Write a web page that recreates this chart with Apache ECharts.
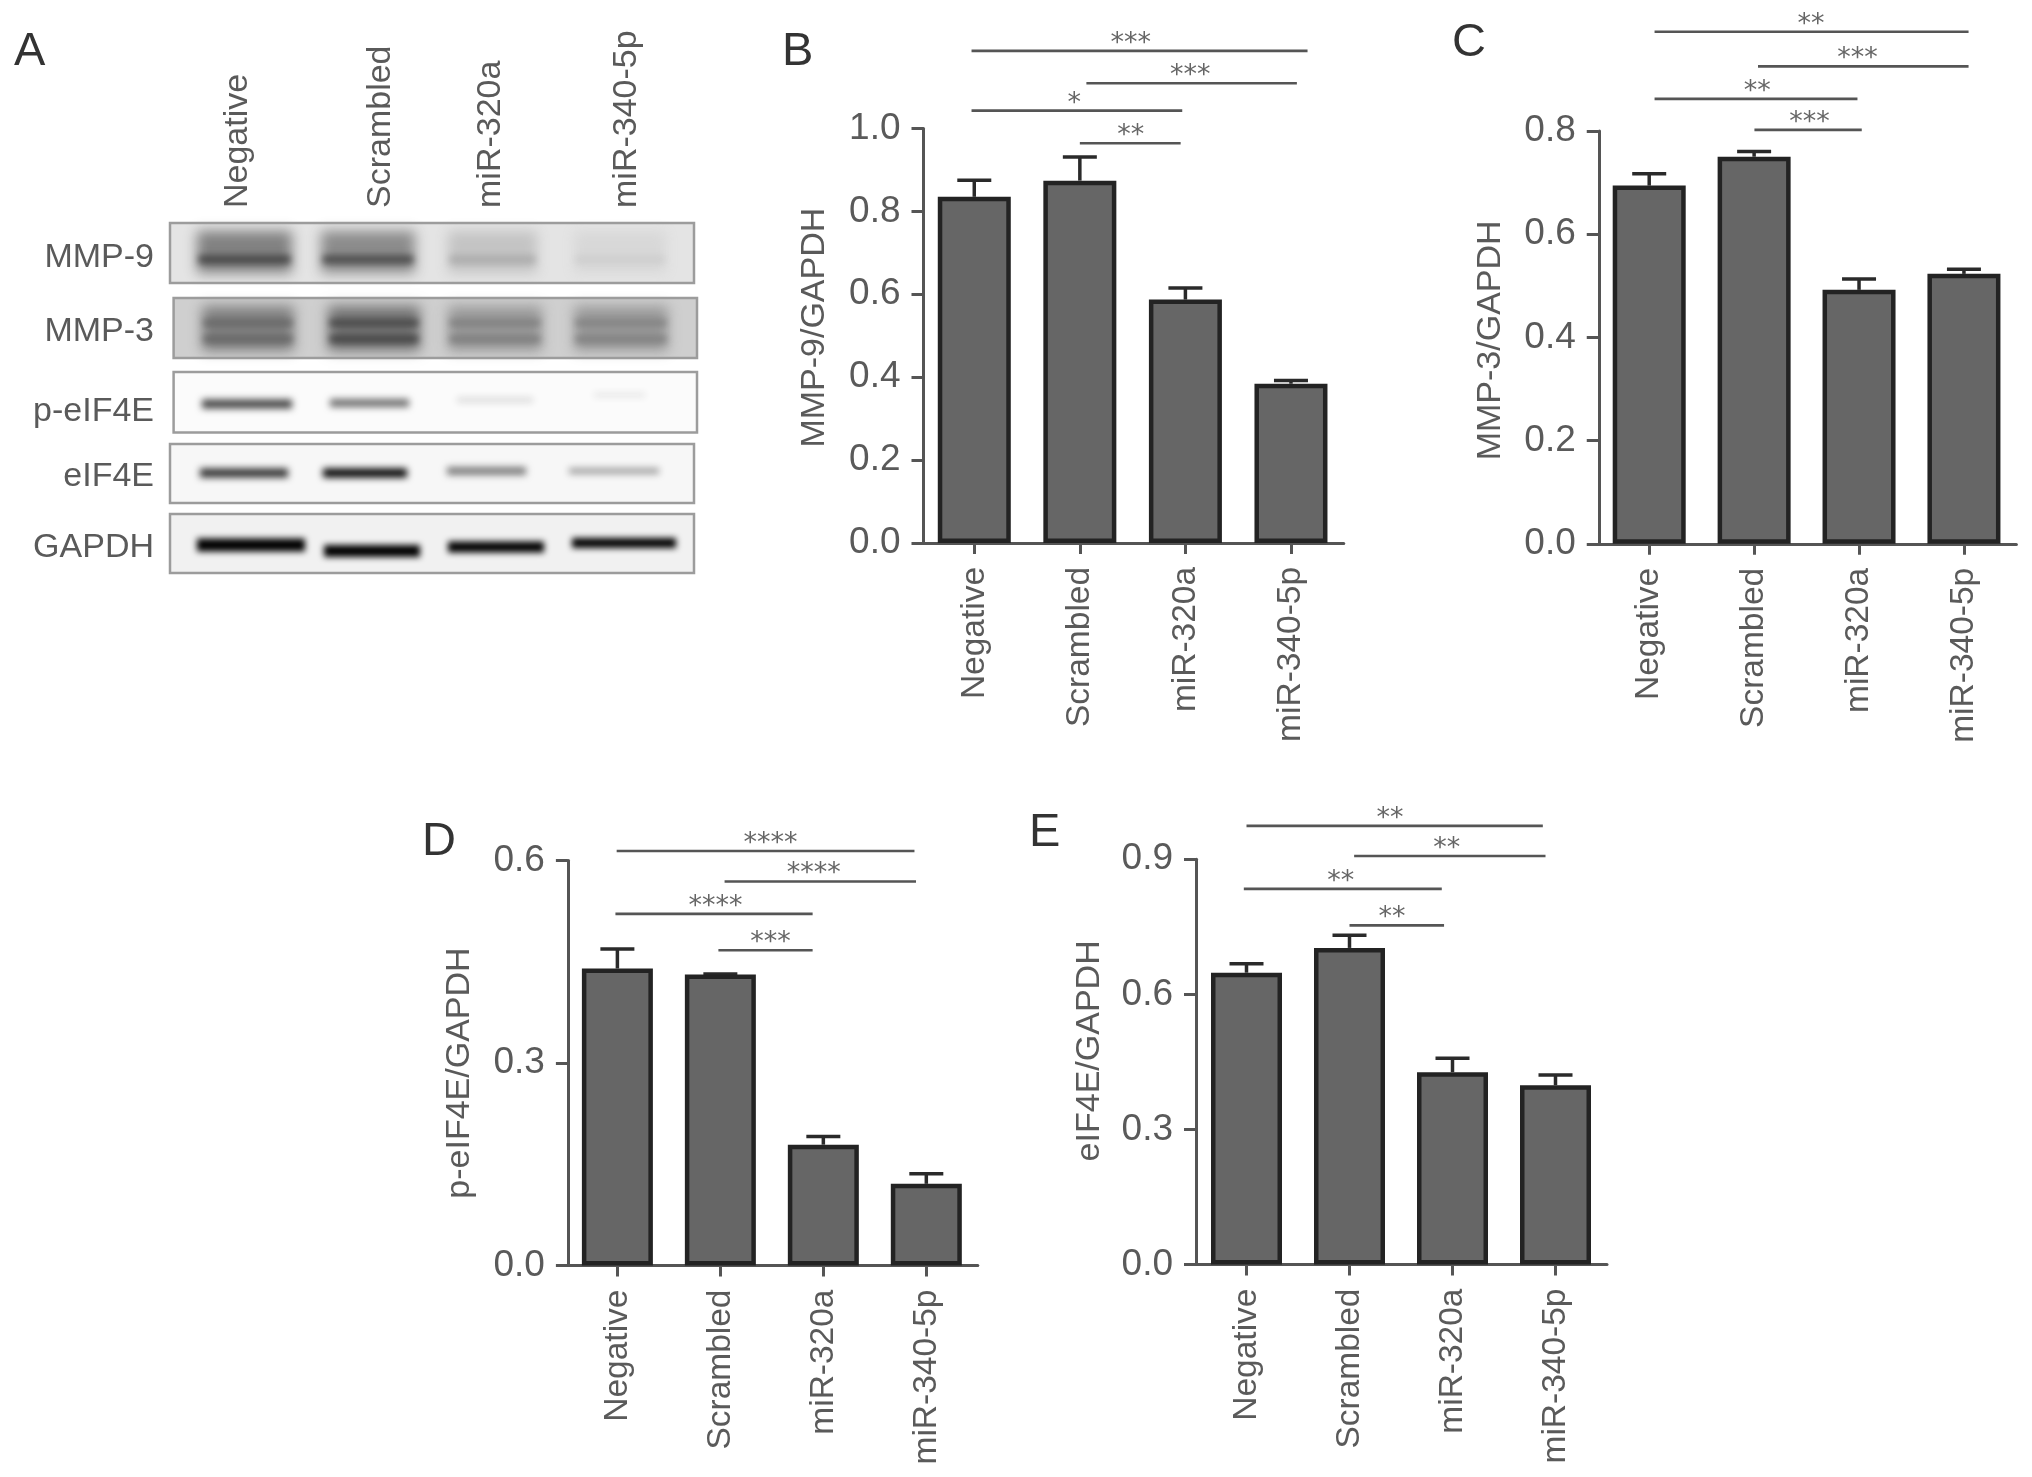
<!DOCTYPE html>
<html><head><meta charset="utf-8">
<style>html,body{margin:0;padding:0;background:#fff}#c{width:2032px;height:1477px}</style>
<script src="https://cdn.jsdelivr.net/npm/echarts@6/dist/echarts.min.js"></script>
</head><body><div id="c"></div>
<script>
// ---------- data ----------
const categories = ['Negative','Scrambled','miR-320a','miR-340-5p'];
const yNames = ['MMP-9/GAPDH','MMP-3/GAPDH','p-eIF4E/GAPDH','eIF4E/GAPDH'];
const valuesB = [0.835,0.874,0.587,0.384];
const errTopB = [0.875,0.931,0.615,0.392];
const valuesC = [0.694,0.75,0.492,0.523];
const errTopC = [0.717,0.760,0.513,0.532];
const valuesD = [0.44,0.431,0.179,0.121];
const errTopD = [0.469,0.432,0.191,0.136];
const valuesE = [0.648,0.703,0.427,0.398];
const errTopE = [0.668,0.731,0.458,0.421];
// significance: [from, to, height, stars, star position]
const sigB = [[-0.026,3.157,1.187,'***',1.483],[1.062,3.056,1.109,'***',2.045],[-0.026,1.97,1.043,'*',0.948],[1.0,1.955,0.964,'**',1.483]];
const sigC = [[0.051,3.044,0.992,'**',1.542],[1.037,3.044,0.925,'***',1.985],[0.051,1.985,0.862,'**',1.029],[1.003,2.026,0.802,'***',1.527]];
const sigD = [[-0.007,2.885,0.614,'****',1.487],[1.041,2.9,0.569,'****',1.907],[-0.019,1.896,0.521,'****',0.952],[0.981,1.896,0.467,'***',1.487]];
const sigE = [[0,2.877,0.974,'**',1.394],[1.045,2.903,0.907,'**',1.944],[-0.026,1.896,0.834,'**',0.915],[1.0,1.918,0.753,'**',1.413]];
// western-blot band densities per lane (0 = blank, 1 = black)
const blotRows = ['MMP-9','MMP-3','p-eIF4E','eIF4E','GAPDH'];
const smearMMP9 = [0.47,0.43,0.2,0.12];
const bandMMP9 = [0.72,0.7,0.3,0.16];
const smearMMP3 = [0.47,0.52,0.37,0.37];
const bandMMP3 = [0.58,0.72,0.48,0.47];
const bandPeIF4E = [0.72,0.55,0.12,0.08];
const bandEIF4E = [0.8,1,0.5,0.36];
const bandGAPDH = [1,1,1,1];

// ---------- layout ----------
const FONT = '"Liberation Sans", Arial, sans-serif';
const TXT = '#5a5a5a';
const panels = [
 {name:yNames[0],v:valuesB,e:errTopB,s:sigB,max:1,step:0.2,left:921.5,right:1343.75,top:128.4,bottom:542.9,off:-2,gap:92,pad:[0,0,0,16],bw:73},
 {name:yNames[1],v:valuesC,e:errTopC,s:sigC,max:0.8,step:0.2,left:1596.75,right:2016.4,top:130.9,bottom:543.8,off:-2,gap:91,pad:[0,6,0,0],bw:73},
 {name:yNames[2],v:valuesD,e:errTopD,s:sigD,max:0.6,step:0.3,left:565.9,right:977.8,top:860.5,bottom:1265.5,off:-2,gap:91,pad:[0,20,0,0],bw:71},
 {name:yNames[3],v:valuesE,e:errTopE,s:sigE,max:0.9,step:0.3,left:1195,right:1607,top:859.2,bottom:1264.5,off:-1,gap:89,pad:[0,0,0,22],bw:71}
];

const grids=[],xAxes=[],yAxes=[],series=[];
panels.forEach((p,i)=>{
  grids.push({left:p.left,top:p.top,width:p.right-p.left,height:p.bottom-p.top,containLabel:false});
  xAxes.push({type:'category',gridIndex:i,data:categories,
    axisLine:{show:true,onZero:false,lineStyle:{color:'#555',width:3}},
    axisTick:{show:true,alignWithLabel:true,length:11,lineStyle:{color:'#555',width:3}},
    axisLabel:{rotate:90,interval:0,margin:24,fontFamily:FONT,fontSize:33.5,color:TXT},splitLine:{show:false}});
  const hiddenX = xAxes.length;
  xAxes.push({type:'value',gridIndex:i,min:-0.5,max:3.5,show:false,splitLine:{show:false}});
  yAxes.push({type:'value',gridIndex:i,min:0,max:p.max,interval:p.step,offset:p.off,
    name:p.name,nameLocation:'middle',nameGap:p.gap,nameRotate:90,
    nameTextStyle:{fontFamily:FONT,fontSize:34,color:TXT,padding:p.pad},
    axisLine:{show:true,onZero:false,lineStyle:{color:'#555',width:3}},
    axisTick:{show:true,length:12,lineStyle:{color:'#555',width:3}},
    axisLabel:{margin:23,fontFamily:FONT,fontSize:37,color:TXT,formatter:v=>v.toFixed(1)},
    splitLine:{show:false}});
  series.push({type:'bar',xAxisIndex:xAxes.length-2,yAxisIndex:i,data:p.v,barWidth:p.bw,z:3,
    itemStyle:{color:'#666666',borderColor:'#232323',borderWidth:4.5},silent:true});
  series.push({type:'custom',xAxisIndex:xAxes.length-2,yAxisIndex:i,z:2,silent:true,
    data:p.v.map((v,k)=>[k,v]),encode:{x:0,y:1},clip:false,
    renderItem:(params,api)=>{
      const k=params.dataIndex;
      const a=api.coord([k,p.v[k]]), b=api.coord([k,p.e[k]]);
      const st={stroke:'#2a2a2a',lineWidth:3.5,fill:null};
      return {type:'group',children:[
        {type:'line',shape:{x1:a[0],y1:a[1],x2:b[0],y2:b[1]},style:st},
        {type:'line',shape:{x1:a[0]-17,y1:b[1],x2:a[0]+17,y2:b[1]},style:st}]};
    }});
  series.push({type:'custom',xAxisIndex:hiddenX,yAxisIndex:i,z:4,silent:true,
    data:p.s.map(b=>[b[0],b[2]]),encode:{x:0,y:1},clip:false,
    renderItem:(params,api)=>{
      const b=p.s[params.dataIndex];
      const a=api.coord([b[0],b[2]]), c=api.coord([b[1],b[2]]), t=api.coord([b[4],b[2]]);
      return {type:'group',children:[
        {type:'line',shape:{x1:a[0],y1:a[1],x2:c[0],y2:c[1]},style:{stroke:'#555',lineWidth:2.6,fill:null}},
        {type:'text',style:{x:t[0],y:t[1]-7,text:b[3],fill:'#666',align:'center',verticalAlign:'middle',
          fontFamily:'"DejaVu Sans"',fontSize:27}}]};
    }});
});

// blot panel (A), on its own hidden pixel-scaled axes
const blotLayout = [
 {box:[170,694,223,283],bg:'#e4e4e4',lanes:[[197,292],[321,415],[448,537],[574,666]],smearY:[231,273],bandY:[[259.5,8]],smear:smearMMP9,band:bandMMP9},
 {box:[173.6,697,298,358],bg:'#cfcfcf',lanes:[[202,294],[328,420],[448,542],[574,668]],smearY:[306,351],bandY:[[323,7],[339,8]],smear:smearMMP3,band:bandMMP3},
 {box:[173.6,697,372,432.5],bg:'#fbfbfb',lanes:[[200,294],[328,411],[455,535],[592,647]],bandY:[[404,9],[403,8],[400,5],[395,4]],perLane:true,band:bandPeIF4E},
 {box:[170,694,444,503],bg:'#f7f7f7',lanes:[[198,290],[321,409],[445,528],[567,661]],bandY:[[473,9],[473,9],[471,8],[471,6]],perLane:true,band:bandEIF4E},
 {box:[170,694,514,573],bg:'#f1f1f1',lanes:[[195,307],[322,422],[446,546],[570,678]],bandY:[[545,13],[551,12],[547,11],[543,10]],perLane:true,band:bandGAPDH}
];
const gray=d=>{const g=Math.round(245*(1-d));return `rgb(${g},${g},${g})`;};
const blotItems=[];
blotLayout.forEach(r=>{
  blotItems.push({k:'bg',x0:r.box[0],x1:r.box[1],y0:r.box[2],y1:r.box[3],fill:r.bg});
  r.lanes.forEach((l,i)=>{
    if(r.smear) blotItems.push({k:'b',x0:l[0],x1:l[1],y0:r.smearY[0],y1:r.smearY[1],fill:gray(r.smear[i]),blur:12});
    (r.perLane?[r.bandY[i]]:r.bandY).forEach(b=>{
      blotItems.push({k:'b',x0:l[0]+2,x1:l[1]-2,y0:b[0]-b[1]/2,y1:b[0]+b[1]/2,fill:gray(r.band[i]),blur:r.band===bandGAPDH?6:7});
    });
  });
  blotItems.push({k:'frame',x0:r.box[0],x1:r.box[1],y0:r.box[2],y1:r.box[3]});
});
grids.push({left:0,top:0,width:720,height:700});
const gi=grids.length-1;
xAxes.push({type:'value',gridIndex:gi,min:0,max:720,show:false,splitLine:{show:false}});
yAxes.push({type:'value',gridIndex:gi,min:0,max:700,inverse:true,show:false,splitLine:{show:false}});
const OFF=3000; // bands are painted by their blurred shadow only
series.push({type:'custom',xAxisIndex:xAxes.length-1,yAxisIndex:yAxes.length-1,silent:true,clip:false,z:1,
  data:blotItems.map(b=>[b.x0,b.y0]),encode:{x:0,y:1},
  renderItem:(params,api)=>{
    const b=blotItems[params.dataIndex];
    const a=api.coord([b.x0,b.y0]),c=api.coord([b.x1,b.y1]);
    const shape={x:a[0],y:a[1],width:c[0]-a[0],height:c[1]-a[1]};
    if(b.k==='frame') return {type:'rect',shape,style:{fill:null,stroke:'#9c9c9c',lineWidth:2.5}};
    if(b.k==='bg') return {type:'rect',shape,style:{fill:b.fill}};
    shape.x-=OFF;
    return {type:'rect',shape,style:{fill:b.fill,shadowBlur:b.blur,shadowColor:b.fill,shadowOffsetX:OFF}};
  }});

// text of panel A and panel letters
const letters = [['A',14,52],['B',782,52.5],['C',1452,43],['D',422,842],['E',1029,833]];
const rowLabelY = [258,331.5,412,476.5,547.5];
const laneLabelX = [237.5,380.5,490.5,627];
const graphic=[];
letters.forEach(l=>graphic.push({type:'text',x:l[1],y:l[2],silent:true,
  style:{text:l[0],fill:'#333',fontFamily:FONT,fontSize:47,align:'left',verticalAlign:'middle'}}));
blotRows.forEach((t,i)=>graphic.push({type:'text',x:154,y:rowLabelY[i],silent:true,
  style:{text:t,fill:TXT,fontFamily:FONT,fontSize:34,align:'right',verticalAlign:'middle'}}));
categories.forEach((t,i)=>graphic.push({type:'text',x:laneLabelX[i],y:208,rotation:Math.PI/2,silent:true,
  style:{text:t,fill:TXT,fontFamily:FONT,fontSize:34,align:'left',verticalAlign:'middle'}}));

echarts.init(document.getElementById('c'),null,{renderer:'canvas'}).setOption({
  animation:false,backgroundColor:'#fff',tooltip:{show:false},
  grid:grids,xAxis:xAxes,yAxis:yAxes,series,graphic
});
</script></body></html>
